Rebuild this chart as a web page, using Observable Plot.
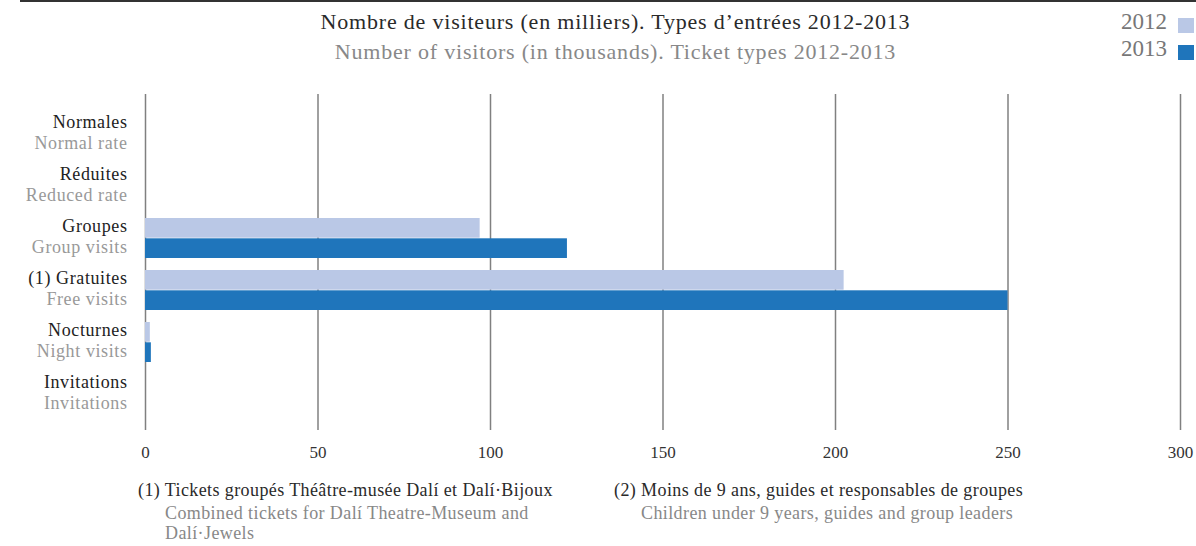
<!DOCTYPE html>
<html>
<head>
<meta charset="utf-8">
<script src="https://cdn.jsdelivr.net/npm/d3@7"></script>
<script src="https://cdn.jsdelivr.net/npm/@observablehq/plot@0.6"></script>
<style>
  body { margin: 0; background: #fff; }
  #wrap { position: relative; width: 1196px; height: 546px; overflow: hidden; font-family: "Liberation Serif", serif; }
  #topline { position: absolute; left: 20px; top: 0; width: 1176px; height: 0; border-top: 2px solid #333; }
  .abs { position: absolute; white-space: nowrap; }
  #title { left: 0; width: 1231px; text-align: center; top: 9px; font-size: 22px; letter-spacing: 0.8px; color: #2a2a2a; }
  #subtitle { left: 0; width: 1231px; text-align: center; top: 39px; font-size: 22px; letter-spacing: 0.8px; color: #888; }
  .leg { font-size: 23px; color: #777; text-align: right; width: 100px; left: 1067px; }
  .sw { position: absolute; left: 1178px; width: 16px; height: 15px; }
  .fn { font-size: 18px; letter-spacing: 0.4px; }
  .fr { color: #2a2a2a; }
  .en { color: #888; }
  #chart { position: absolute; left: 0; top: 80px; }
</style>
</head>
<body>
<div id="wrap">
  <div id="topline"></div>
  <div id="title" class="abs"></div>
  <div id="subtitle" class="abs"></div>
  <div id="leg2012" class="abs leg" style="top:9px"></div>
  <div id="sw2012" class="sw" style="top:18px"></div>
  <div id="leg2013" class="abs leg" style="top:36px"></div>
  <div id="sw2013" class="sw" style="top:45px"></div>
  <div id="chart"></div>
  <div id="fn1a" class="abs fn fr" style="left:138px; top:480px"></div>
  <div id="fn1b" class="abs fn en" style="left:165px; top:503px"></div>
  <div id="fn1c" class="abs fn en" style="left:165px; top:525px; line-height:16px"></div>
  <div id="fn2a" class="abs fn fr" style="left:614px; top:480px"></div>
  <div id="fn2b" class="abs fn en" style="left:641px; top:503px"></div>
</div>
<script>
const titleFr = "Nombre de visiteurs (en milliers). Types d’entrées 2012-2013";
const titleEn = "Number of visitors (in thousands). Ticket types 2012-2013";
const categories = ["Normales", "Réduites", "Groupes", "(1) Gratuites", "Nocturnes", "Invitations"];
const categoriesEn = ["Normal rate", "Reduced rate", "Group visits", "Free visits", "Night visits", "Invitations"];
const values2012 = [0, 0, 97, 202.5, 1.4, 0];
const values2013 = [0, 0, 122.3, 250, 1.7, 0];
const years = ["2012", "2013"];
const colors = ["#bac8e6", "#1f75bb"];
const xTicks = [0, 50, 100, 150, 200, 250, 300];
const notes1 = ["(1) Tickets groupés Théâtre-musée Dalí et Dalí·Bijoux", "Combined tickets for Dalí Theatre-Museum and", "Dalí·Jewels"];
const notes2 = ["(2) Moins de 9 ans, guides et responsables de groupes", "Children under 9 years, guides and group leaders"];

document.getElementById("title").textContent = titleFr;
document.getElementById("subtitle").textContent = titleEn;
document.getElementById("leg2012").textContent = years[0];
document.getElementById("leg2013").textContent = years[1];
document.getElementById("sw2012").style.background = colors[0];
document.getElementById("sw2013").style.background = colors[1];
document.getElementById("fn1a").textContent = notes1[0];
document.getElementById("fn1b").textContent = notes1[1];
document.getElementById("fn1c").textContent = notes1[2];
document.getElementById("fn2a").textContent = notes2[0];
document.getElementById("fn2b").textContent = notes2[1];

const rows = categories.map((c, i) => ({cat: c, en: categoriesEn[i], v2012: values2012[i], v2013: values2013[i]}));
const svgTop = 80;

const chart = Plot.plot({
  width: 1196,
  height: 390,
  marginTop: 14,
  marginBottom: 40,
  marginLeft: 145,
  marginRight: 16,
  style: {fontFamily: "Liberation Serif, serif", fontSize: "17px", color: "#333", background: "transparent"},
  x: {domain: [0, 300], axis: null},
  y: {domain: categories, range: [112.8 - svgTop, 414.9 - svgTop], paddingInner: 0.224, paddingOuter: 0, axis: null},
  marks: [
    Plot.ruleX(xTicks, {stroke: "#808080", strokeWidth: 1.5}),
    Plot.barX(rows, {y: "cat", x: "v2012", fill: colors[0], insetBottom: 20.3}),
    Plot.barX(rows, {y: "cat", x: "v2013", fill: colors[1], insetTop: 20.3}),
    Plot.axisX({ticks: xTicks, tickSize: 0, tickPadding: 15, fontSize: 17, fill: "#333", tickFormat: d => String(d)}),
    Plot.text(rows, {y: "cat", text: "cat", frameAnchor: "left", textAnchor: "end", dx: -18, dy: -12, fill: "#222", fontSize: 18}),
    Plot.text(rows, {y: "cat", text: "en", frameAnchor: "left", textAnchor: "end", dx: -18, dy: 9, fill: "#999", fontSize: 18})
  ]
});
chart.querySelectorAll("g[aria-label='text'] text").forEach(t => t.style.letterSpacing = "0.6px");
document.getElementById("chart").appendChild(chart);
</script>
</body>
</html>
